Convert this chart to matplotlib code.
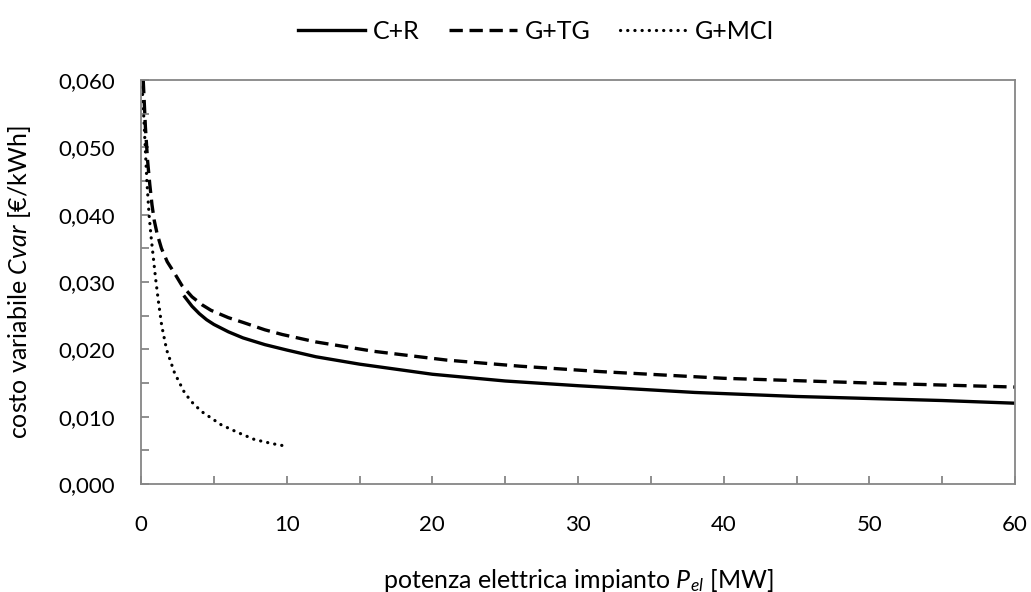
import matplotlib.pyplot as plt
from matplotlib.ticker import FuncFormatter, MultipleLocator

plt.rcParams['font.family'] = ['Lato', 'DejaVu Sans']
plt.rcParams['mathtext.fontset'] = 'custom'
plt.rcParams['mathtext.rm'] = 'Lato'
plt.rcParams['mathtext.it'] = 'Lato:italic'

# values
cr_x = [3, 3.5, 4, 4.5, 5, 6, 7, 8.5, 10, 12, 15, 20, 25, 30, 38, 45, 50, 55, 60]
cr_y = [0.0278, 0.0264, 0.0253, 0.0244, 0.0237, 0.0226, 0.0217, 0.0207, 0.0199,
        0.0189, 0.0178, 0.0163, 0.0153, 0.0146, 0.0136, 0.0130, 0.0127, 0.0124,
        0.0120]

tg_x = [0.15, 0.3, 0.45, 0.6, 0.75, 0.9, 1.1, 1.4, 1.8, 2.3, 2.8, 3.5, 4.2, 4.8,
        6, 7, 8.5, 9.7, 12, 16, 21, 26, 31.5, 40, 50, 60]
tg_y = [0.060, 0.053, 0.048, 0.0445, 0.0415, 0.0392, 0.0372, 0.0350, 0.0330,
        0.0313, 0.0295, 0.0278, 0.0266, 0.0258, 0.0247, 0.0240, 0.0229, 0.0222,
        0.0211, 0.0197, 0.0184, 0.0175, 0.0167, 0.0157, 0.0150, 0.0144]

mci_x = [0.05, 0.16, 0.27, 0.4, 0.55, 0.7, 0.85, 1.0, 1.2, 1.42, 1.76, 2.3, 3.0,
         3.6, 4.2, 5.5, 6.7, 7.8, 9, 10]
mci_y = [0.060, 0.0558, 0.0508, 0.045, 0.040, 0.0365, 0.0335, 0.0305, 0.0270,
         0.0235, 0.0199, 0.0165, 0.0135, 0.0119, 0.0107, 0.0088, 0.0076, 0.0066,
         0.0060, 0.0056]

labels = ['C+R', 'G+TG', 'G+MCI']

fig = plt.figure(figsize=(10.31, 5.92), dpi=100)
ax = fig.add_axes([0.1368, 0.1824, 0.8477, 0.6825])

ax.plot(cr_x, cr_y, color='black', lw=2.4, label=labels[0])
ax.plot(tg_x, tg_y, color='black', lw=2.4, linestyle=(0, (4, 2)), label=labels[1])
ax.plot(mci_x, mci_y, color='black', lw=2.3, linestyle=(0, (0.05, 2.2)),
        dash_capstyle='round', label=labels[2])

ax.set_xlim(0, 60)
ax.set_ylim(0, 0.060)
ax.xaxis.set_major_locator(MultipleLocator(10))
ax.xaxis.set_minor_locator(MultipleLocator(5))
ax.yaxis.set_major_locator(MultipleLocator(0.010))
ax.yaxis.set_minor_locator(MultipleLocator(0.005))
ax.yaxis.set_major_formatter(FuncFormatter(lambda v, p: f'{v:.3f}'.replace('.', ',')))

for s in ax.spines.values():
    s.set_color('#868686')
    s.set_linewidth(1.3)
ax.tick_params(which='both', direction='in', length=6, width=1.3, color='#868686',
               top=False, right=False, labelsize=16, labelcolor='black')
ax.tick_params(axis='y', pad=19)
ax.tick_params(axis='x', pad=22)

ax.set_xlabel(r'potenza elettrica impianto $\mathit{P}_{\mathit{el}}$ [MW]', fontsize=18)
ax.set_ylabel(r'costo variabile $\mathit{Cvar}$ [€/kWh]', fontsize=18)
ax.xaxis.set_label_coords(0.5, -0.205)
ax.yaxis.set_label_coords(-0.124, 0.5)

fig.legend(loc='upper center', bbox_to_anchor=(0.52, 1.005), ncol=3, frameon=False,
           fontsize=18, handlelength=2.7, handletextpad=0.3, columnspacing=1.2)

fig.savefig('out.png', dpi=100)
